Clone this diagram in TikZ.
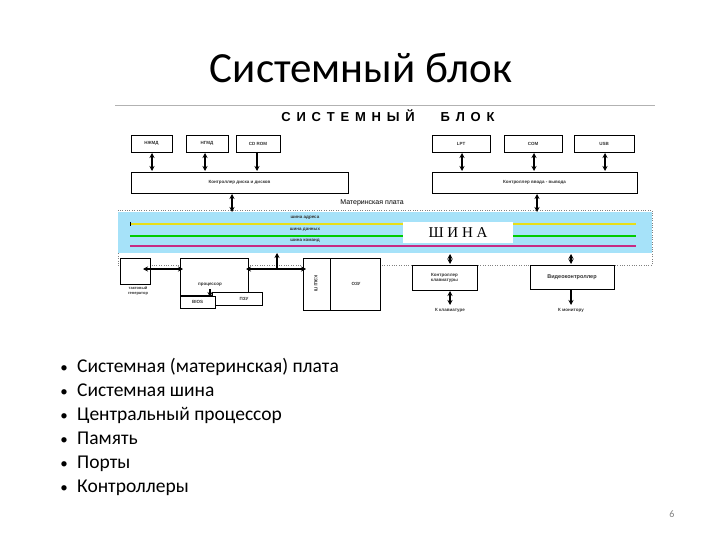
\documentclass[tikz,border=0pt]{standalone}
\usepackage{fontspec}
\setmainfont{Carlito}
\newfontfamily\arialf{Liberation Sans}
\newfontfamily\timesf{Liberation Serif}
\usetikzlibrary{arrows.meta}
\begin{document}
\begin{tikzpicture}[x=1pt,y=-1pt,
  bx/.style={draw,line width=0.8pt,fill=white,inner sep=0pt},
  sm/.style={font=\arialf\bfseries\fontsize{4.5}{5}\selectfont,text=black!80,align=center},
  dbl/.style={{Stealth[length=5pt,width=5pt]}-{Stealth[length=5pt,width=5pt]},line width=1.2pt},
  sgl/.style={-{Stealth[length=5pt,width=5pt]},line width=1.2pt}]
\useasboundingbox (0,0) rectangle (720,540);
\node (title) at (361,68) {\fontsize{43}{48}\selectfont Системный блок};
\draw[gray!60,line width=0.8pt] (115,105) -- (655,105);
\node (head) at (388,116) {\arialf\bfseries\fontsize{13}{14}\selectfont С\;\,И\;\,С\;\,Т\;\,Е\;\,М\;\,Н\;\,Ы\;\,Й\qquad Б\;\,Л\;\,О\;\,К};
% top boxes
\node[bx,minimum width=41,minimum height=17] (n1) at (151.5,143.5) {};
\node[sm] at (n1) {НЖМД};
\node[bx,minimum width=42,minimum height=17] (n2) at (207,143.5) {};
\node[sm] at (n2) {НГМД};
\node[bx,minimum width=44,minimum height=17] (n3) at (258,143.5) {};
\node[sm] at (n3) {CD ROM};
\node[bx,minimum width=58,minimum height=17] (p1) at (461,143.5) {};
\node[sm] at (p1) {LPT};
\node[bx,minimum width=58,minimum height=17] (p2) at (533,143.5) {};
\node[sm] at (p2) {COM};
\node[bx,minimum width=60,minimum height=17] (p3) at (604,143.5) {};
\node[sm] at (p3) {USB};
\node[bx,minimum width=217,minimum height=21] (dc) at (239.5,182.5) {};
\node[sm] at (dc) {Контроллер диска и дисков};
\node[bx,minimum width=205,minimum height=21] (io) at (534.5,182.5) {};
\node[sm] at (io) {Контроллер ввода - вывода};
\draw[dbl] (152,153) -- (152,171);
\draw[dbl] (205,153) -- (205,171);
\draw[sgl] (257,152) -- (257,171);
\draw[dbl] (462,153) -- (462,171);
\draw[dbl] (534,153) -- (534,171);
\draw[dbl] (605,153) -- (605,171);
% bus
\node[inner sep=0pt,minimum width=534,minimum height=55,draw=gray,dotted,fill=white] (frame) at (385,237.5) {};
\fill[cyan!35] (118,212) rectangle (652,253);
\node (mp) at (372,203) {\arialf\fontsize{7}{8}\selectfont Материнская плата};
\draw[yellow!90!black,line width=2.5pt] (130,224) -- (636,224);
\draw[green!80!black,line width=2.5pt] (130,236) -- (636,236);
\draw[magenta!80!black,line width=2.5pt] (130,246) -- (636,246);
\draw[black,line width=0.4pt] (130,222) -- (130,226);
\node[sm] at (305,218) {шина адреса};
\node[sm] at (305,229.5) {шина данных};
\node[sm] at (305,240.5) {шина команд};
\node[fill=white,inner sep=0pt,minimum width=110,minimum height=20] (bus) at (458,232.5) {\timesf\fontsize{15}{16}\selectfont Ш И Н А};
\draw[dbl] (232,194) -- (232,212);
\draw[dbl] (537,194) -- (537,212);
% bottom left
\node[bx,minimum width=30,minimum height=26] (clk) at (135,271) {};
\node[sm,font=\arialf\bfseries\fontsize{4}{4.5}\selectfont] at (138,291) {тактовый\\генератор};
\node[bx,minimum width=68,minimum height=37] (cpu) at (214,276.5) {};
\node[sm] at (210,285) {процессор};
\node[bx,minimum width=50,minimum height=13] (rom) at (237,298.5) {};
\node[sm] at (244,298.5) {ПЗУ};
\node[bx,minimum width=35,minimum height=12] (bios) at (197.5,302) {};
\node[sm] at (bios) {BIOS};
\draw[sgl] (210,289) -- (210,297);
\draw[dbl] (143,269) -- (183,269);
\node[bx,minimum width=77,minimum height=52] (ram) at (341.5,284) {};
\draw[line width=0.8pt] (330,258) -- (330,310);
\node[sm,rotate=-90] at (316,284) {КЭШ ПI};
\node[sm] at (356,284) {ОЗУ};
\draw[dbl] (246,269) -- (306,269);
\draw[sgl] (277,269) -- (277,253);
% bottom right
\node[bx,minimum width=65,minimum height=25] (kc) at (444.5,277.5) {};
\node[sm] at (kc) {Контроллер\\клавиатуры};
\draw[dbl] (450,254) -- (450,264);
\draw[dbl] (450,291) -- (450,305);
\node[sm] (kk) at (450,310) {К клавиатуре};
\node[bx,minimum width=84,minimum height=24] (vc) at (572,277) {};
\node[sm,font=\arialf\bfseries\fontsize{5.5}{6}\selectfont] at (vc) {Видеоконтроллер};
\draw[dbl] (571,254) -- (571,264);
\draw[sgl] (571,289) -- (571,305);
\node[sm] (km) at (571,310) {К монитору};
% bullets
\foreach \t [count=\i] in {Системная (материнская) плата,Системная шина,Центральный процессор,Память,Порты,Контроллеры}{
  \node[anchor=base west,inner sep=0pt,font=\fontsize{19.5}{22}\selectfont] (b\i) at (77,372+24*\i-24) {\t};
  \node[anchor=base,inner sep=0pt,font=\fontsize{15}{16}\selectfont] at (64,372+24*\i-24) {•};
}
\node[text=gray,font=\fontsize{10}{12}\selectfont] (pg) at (672,514) {6};
\end{tikzpicture}
\end{document}
